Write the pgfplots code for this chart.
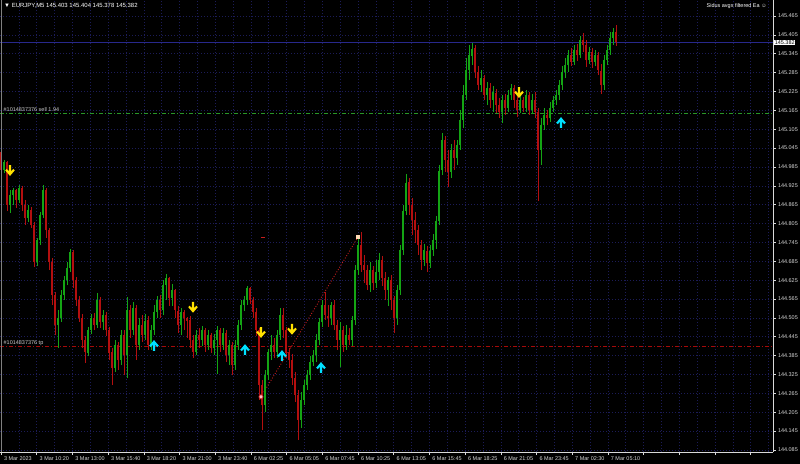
\documentclass[border=0pt]{standalone}
\usepackage{fontspec}
\setmainfont{Liberation Sans}
\usepackage{pgfplots}
\usepackage{pgfplotstable}
\pgfplotsset{compat=1.18}

\definecolor{bull}{RGB}{20,165,20}
\definecolor{bear}{RGB}{180,15,15}
\definecolor{gridblue}{RGB}{28,28,88}
\definecolor{bidline}{RGB}{40,40,140}
\definecolor{selllvl}{RGB}{40,150,40}
\definecolor{tplvl}{RGB}{165,10,10}
\definecolor{tradeln}{RGB}{200,30,30}
\definecolor{arrup}{RGB}{0,225,255}
\definecolor{arrdn}{RGB}{255,225,0}

\pgfdeclareplotmark{dnarr}{%
  \pgfsetlinewidth{2.1bp}%
  \pgfpathmoveto{\pgfpoint{0bp}{5bp}}\pgfpathlineto{\pgfpoint{0bp}{-4bp}}%
  \pgfpathmoveto{\pgfpoint{-4bp}{0.5bp}}\pgfpathlineto{\pgfpoint{0bp}{-4.2bp}}\pgfpathlineto{\pgfpoint{4bp}{0.5bp}}%
  \pgfusepathqstroke}
\pgfdeclareplotmark{uparr}{%
  \pgfsetlinewidth{2.1bp}%
  \pgfpathmoveto{\pgfpoint{0bp}{-5bp}}\pgfpathlineto{\pgfpoint{0bp}{4bp}}%
  \pgfpathmoveto{\pgfpoint{-4bp}{-0.5bp}}\pgfpathlineto{\pgfpoint{0bp}{4.2bp}}\pgfpathlineto{\pgfpoint{4bp}{-0.5bp}}%
  \pgfusepathqstroke}

% EURJPY M5 bars: x (screen slot), open, high, low, close
\pgfplotstableread{
x o h l c
1 145.033 145.039 144.969 144.975
4 144.975 145.007 144.966 145.001
7 145.001 145.007 144.848 144.864
10 144.864 144.912 144.839 144.896
13 144.896 144.921 144.864 144.912
16 144.912 144.918 144.855 144.880
19 144.880 144.928 144.871 144.918
22 144.918 144.925 144.848 144.864
25 144.864 144.880 144.801 144.823
28 144.823 144.864 144.810 144.848
31 144.848 144.858 144.791 144.801
34 144.801 144.810 144.667 144.683
37 144.683 144.759 144.670 144.753
40 144.753 144.842 144.737 144.832
43 144.832 144.928 144.823 144.912
46 144.912 144.918 144.759 144.785
49 144.785 144.791 144.657 144.683
52 144.683 144.696 144.546 144.578
55 144.578 144.587 144.451 144.483
58 144.483 144.530 144.409 144.505
61 144.505 144.594 144.492 144.578
64 144.578 144.638 144.562 144.626
67 144.626 144.683 144.610 144.664
70 144.664 144.724 144.651 144.715
73 144.715 144.721 144.600 144.626
76 144.626 144.638 144.543 144.562
79 144.562 144.575 144.492 144.505
82 144.505 144.518 144.409 144.435
85 144.435 144.448 144.362 144.397
88 144.397 144.479 144.384 144.467
91 144.467 144.518 144.454 144.505
94 144.505 144.521 144.467 144.483
97 144.483 144.584 144.473 144.562
100 144.562 144.572 144.473 144.492
103 144.492 144.530 144.467 144.514
106 144.514 144.524 144.448 144.467
109 144.467 144.476 144.371 144.397
112 144.397 144.409 144.292 144.346
115 144.346 144.435 144.333 144.419
118 144.419 144.428 144.339 144.371
121 144.371 144.467 144.355 144.451
124 144.451 144.467 144.324 144.387
127 144.387 144.572 144.314 144.530
130 144.530 144.546 144.441 144.467
133 144.467 144.556 144.451 144.537
136 144.537 144.546 144.371 144.419
139 144.419 144.505 144.403 144.483
142 144.483 144.514 144.428 144.451
145 144.451 144.518 144.435 144.498
148 144.498 144.511 144.403 144.419
151 144.419 144.483 144.403 144.467
154 144.467 144.546 144.451 144.524
157 144.524 144.575 144.505 144.562
160 144.562 144.578 144.505 144.530
163 144.530 144.626 144.514 144.610
166 144.610 144.645 144.562 144.632
169 144.632 144.638 144.546 144.568
172 144.568 144.613 144.543 144.594
175 144.594 144.600 144.505 144.530
178 144.530 144.543 144.460 144.483
181 144.483 144.537 144.451 144.524
184 144.524 144.530 144.467 144.505
187 144.505 144.511 144.444 144.498
190 144.498 144.511 144.409 144.435
193 144.435 144.451 144.378 144.397
196 144.397 144.467 144.387 144.451
199 144.451 144.473 144.409 144.435
202 144.435 144.479 144.416 144.467
205 144.467 144.476 144.397 144.419
208 144.419 144.467 144.403 144.451
211 144.451 144.457 144.394 144.409
214 144.409 144.454 144.387 144.435
217 144.435 144.479 144.327 144.467
220 144.467 144.473 144.397 144.419
223 144.419 144.473 144.403 144.457
226 144.457 144.467 144.365 144.387
229 144.387 144.435 144.355 144.419
232 144.419 144.428 144.324 144.355
235 144.355 144.435 144.339 144.419
238 144.419 144.498 144.403 144.483
241 144.483 144.562 144.467 144.546
244 144.546 144.575 144.530 144.562
247 144.562 144.607 144.546 144.600
250 144.600 144.603 144.549 144.562
253 144.562 144.572 144.505 144.524
256 144.524 144.537 144.448 144.467
259 144.467 144.473 144.244 144.292
262 144.292 144.308 144.149 144.228
265 144.228 144.339 144.206 144.324
268 144.324 144.409 144.308 144.397
271 144.397 144.451 144.371 144.419
274 144.419 144.441 144.378 144.397
277 144.397 144.467 144.378 144.451
280 144.451 144.537 144.435 144.514
283 144.514 144.537 144.441 144.467
286 144.467 144.479 144.378 144.397
289 144.397 144.409 144.346 144.371
292 144.371 144.390 144.292 144.314
295 144.314 144.333 144.238 144.260
298 144.260 144.276 144.117 144.180
301 144.180 144.269 144.155 144.244
304 144.244 144.308 144.228 144.292
307 144.292 144.339 144.276 144.324
310 144.324 144.384 144.308 144.365
313 144.365 144.403 144.352 144.387
316 144.387 144.454 144.365 144.435
319 144.435 144.505 144.419 144.492
322 144.492 144.562 144.476 144.546
325 144.546 144.587 144.498 144.514
328 144.514 144.546 144.479 144.505
331 144.505 144.556 144.483 144.546
334 144.546 144.562 144.467 144.483
337 144.483 144.498 144.403 144.435
340 144.435 144.492 144.349 144.467
343 144.467 144.479 144.397 144.419
346 144.419 144.483 144.403 144.451
349 144.451 144.473 144.419 144.435
352 144.435 144.511 144.416 144.498
355 144.498 144.673 144.483 144.657
358 144.657 144.766 144.642 144.737
361 144.737 144.778 144.651 144.673
364 144.673 144.705 144.616 144.657
367 144.657 144.673 144.594 144.610
370 144.610 144.683 144.587 144.657
373 144.657 144.670 144.594 144.616
376 144.616 144.689 144.600 144.651
379 144.651 144.712 144.626 144.689
382 144.689 144.702 144.607 144.632
385 144.632 144.651 144.562 144.594
388 144.594 144.638 144.546 144.626
391 144.626 144.642 144.530 144.562
394 144.562 144.575 144.457 144.505
397 144.505 144.610 144.483 144.594
400 144.594 144.737 144.578 144.721
403 144.721 144.864 144.705 144.848
406 144.848 144.963 144.832 144.937
409 144.937 144.950 144.832 144.864
412 144.864 144.886 144.769 144.816
415 144.816 144.842 144.743 144.785
418 144.785 144.801 144.705 144.737
421 144.737 144.753 144.657 144.689
424 144.689 144.740 144.673 144.721
427 144.721 144.734 144.651 144.683
430 144.683 144.737 144.664 144.721
433 144.721 144.772 144.702 144.753
436 144.753 144.832 144.727 144.816
439 144.816 144.991 144.801 144.975
442 144.975 145.093 144.960 145.071
445 145.071 145.084 144.969 145.007
448 145.007 145.039 144.921 144.969
451 144.969 145.061 144.950 145.039
454 145.039 145.071 144.975 145.014
457 145.014 145.071 144.991 145.055
460 145.055 145.166 145.039 145.134
463 145.134 145.246 145.109 145.214
466 145.214 145.332 145.198 145.293
469 145.293 145.373 145.262 145.341
472 145.341 145.379 145.309 145.363
475 145.363 145.373 145.268 145.287
478 145.287 145.309 145.230 145.246
481 145.246 145.293 145.223 145.268
484 145.268 145.278 145.198 145.214
487 145.214 145.255 145.182 145.236
490 145.236 145.252 145.173 145.198
493 145.198 145.243 145.160 145.223
496 145.223 145.236 145.157 145.182
499 145.182 145.204 145.141 145.160
502 145.160 145.214 145.125 145.198
505 145.198 145.217 145.150 145.173
508 145.173 145.230 145.160 145.214
511 145.214 145.249 145.198 145.236
514 145.236 145.246 145.173 145.198
517 145.198 145.214 145.144 145.166
520 145.166 145.214 145.157 145.198
523 145.198 145.208 145.160 145.173
526 145.173 145.230 145.160 145.214
529 145.214 145.223 145.150 145.166
532 145.166 145.217 145.154 145.198
535 145.198 145.223 145.141 145.160
538 145.160 145.173 144.877 145.039
541 145.039 145.141 144.991 145.119
544 145.119 145.173 145.103 145.150
547 145.150 145.166 145.119 145.141
550 145.141 145.192 145.128 145.173
553 145.173 145.211 145.160 145.198
556 145.198 145.230 145.182 145.214
559 145.214 145.262 145.198 145.246
562 145.246 145.306 145.230 145.287
565 145.287 145.332 145.268 145.309
568 145.309 145.357 145.287 145.341
571 145.341 145.363 145.306 145.319
574 145.319 145.373 145.309 145.357
577 145.357 145.376 145.325 145.341
580 145.341 145.402 145.332 145.389
583 145.389 145.411 145.351 145.373
586 145.373 145.389 145.306 145.325
589 145.325 145.367 145.313 145.351
592 145.351 145.363 145.300 145.319
595 145.319 145.357 145.306 145.341
598 145.341 145.351 145.278 145.293
601 145.293 145.313 145.220 145.246
604 145.246 145.341 145.230 145.325
607 145.325 145.373 145.309 145.357
610 145.357 145.414 145.341 145.395
613 145.395 145.427 145.373 145.414
616 145.414 145.437 145.370 145.382
}\candles

\begin{document}
\begin{tikzpicture}
\useasboundingbox[fill=black] (0,-12bp) rectangle (800bp,452bp);
\begin{axis}[
    at={(0,0)}, anchor=south west,
    scale only axis,
    width=773bp, height=452bp,
    xmin=0, xmax=773,
    ymin=144.0786, ymax=145.516,
    axis line style={draw=none},
    font=\fontsize{5.5}{6.5}\selectfont,
    ticklabel style={text=white!85!black},
    tick style={white!85!black, line width=0.6bp},
    tick align=outside,
    major tick length=2.5bp,
    minor tick length=0pt,
    xtick pos=left, ytick pos=right,
    yticklabel pos=right,
    xtick={1,36.7,72.4,108.1,143.8,179.5,215.2,250.9,286.6,322.3,358,393.7,429.4,465.1,500.8,536.5,572.2,607.9,643.6,679.3,715,750.7},
    xticklabels={3 Mar 2023,3 Mar 10:20,3 Mar 13:00,3 Mar 15:40,3 Mar 18:20,3 Mar 21:00,3 Mar 23:40,6 Mar 02:25,6 Mar 05:05,6 Mar 07:45,6 Mar 10:25,6 Mar 13:05,6 Mar 15:45,6 Mar 18:25,6 Mar 21:05,6 Mar 23:45,7 Mar 02:30,7 Mar 05:10,,,,},
    minor xtick={18.85,54.55,90.25,125.95,161.65,197.35,233.05,268.75,304.45,340.15,375.85,411.55,447.25,482.95,518.65,554.35,590.05,625.75,661.45,697.15,732.85,768.55},
    xticklabel style={anchor=north west, xshift=-0.5bp, yshift=1bp},
    ytick={144.085,144.145,144.205,144.265,144.325,144.385,144.445,144.505,144.565,144.625,144.685,144.745,144.805,144.865,144.925,144.985,145.045,145.105,145.165,145.225,145.285,145.345,145.405,145.465},
    yticklabels={144.085,144.145,144.205,144.265,144.325,144.385,144.445,144.505,144.565,144.625,144.685,144.745,144.805,144.865,144.925,144.985,145.045,145.105,145.165,145.225,145.285,145.345,145.405,145.465},
    yticklabel style={anchor=west, xshift=-1bp},
    grid=both,
    major grid style={draw=gridblue, line width=0.6bp, dash pattern=on 1bp off 2bp},
    minor grid style={draw=gridblue, line width=0.6bp, dash pattern=on 1bp off 2bp},
    clip=true,
]
% order levels
\addplot[bidline, line width=0.6bp, forget plot] coordinates {(0,145.381) (773,145.381)};
\addplot[selllvl, line width=0.6bp, dash pattern=on 4bp off 2bp on 1bp off 2bp, forget plot] coordinates {(0,145.157) (773,145.157)};
\addplot[tplvl, line width=0.7bp, dash pattern=on 4bp off 2bp on 1bp off 2bp, forget plot] coordinates {(0,144.413) (773,144.413)};
\addplot[tradeln, line width=0.9bp, dash pattern=on 0.9bp off 1.8bp, forget plot] coordinates {(261,144.254) (358,144.762)};

% wicks
\addplot[draw=none, mark=none, forget plot,
    restrict expr to domain={\thisrow{c}-\thisrow{o}}{0:1},
    error bars/.cd, y dir=both, y explicit, error mark=none,
    error bar style={draw=bull, line width=0.8bp}]
  table[x=x, y expr={(\thisrow{h}+\thisrow{l})/2}, y error expr={(\thisrow{h}-\thisrow{l})/2}] {\candles};
\addplot[draw=none, mark=none, forget plot,
    restrict expr to domain={\thisrow{o}-\thisrow{c}}{0.0001:1},
    error bars/.cd, y dir=both, y explicit, error mark=none,
    error bar style={draw=bear, line width=0.8bp}]
  table[x=x, y expr={(\thisrow{h}+\thisrow{l})/2}, y error expr={(\thisrow{h}-\thisrow{l})/2}] {\candles};
% bodies
\addplot[draw=none, mark=none, forget plot,
    restrict expr to domain={\thisrow{c}-\thisrow{o}}{0:1},
    error bars/.cd, y dir=both, y explicit, error mark=none,
    error bar style={draw=bull, line width=2bp}]
  table[x=x, y expr={(\thisrow{o}+\thisrow{c})/2}, y error expr={abs(\thisrow{c}-\thisrow{o})/2}] {\candles};
\addplot[draw=none, mark=none, forget plot,
    restrict expr to domain={\thisrow{o}-\thisrow{c}}{0.0001:1},
    error bars/.cd, y dir=both, y explicit, error mark=none,
    error bar style={draw=bear, line width=2bp}]
  table[x=x, y expr={(\thisrow{o}+\thisrow{c})/2}, y error expr={abs(\thisrow{c}-\thisrow{o})/2}] {\candles};

% trade markers
\addplot[only marks, mark=*, mark size=2.1bp, mark options={draw=tradeln, fill=white!75!red, line width=0.7bp}, forget plot] coordinates {(261,144.254)};
\addplot[only marks, mark=square*, mark size=1.6bp, mark options={draw=white!70!orange, fill=white!70!orange}, forget plot] coordinates {(358,144.762)};
\addplot[only marks, mark=-, mark size=2bp, mark options={draw=tradeln, line width=0.8bp}, forget plot] coordinates {(263,144.762)};

% signal arrows
\addplot[only marks, mark=dnarr, mark options={draw=arrdn}, forget plot] coordinates {(10,144.975) (193,144.540) (261,144.460) (292,144.470) (519,145.223)};
\addplot[only marks, mark=uparr, mark options={draw=arrup}, forget plot] coordinates {(154,144.416) (245,144.403) (282,144.384) (321,144.346) (561,145.125)};

% text
\node[anchor=south west, text=white!80!black, inner sep=0.5bp] at (axis cs:3,145.159) {\#1014837376 sell 1.94};
\node[anchor=south west, text=white!80!black, inner sep=0.5bp] at (axis cs:3,144.416) {\#1014837376 tp};
\node[anchor=north west, text=white, inner sep=0pt, font=\fontsize{6}{7}\selectfont] at (rel axis cs:0,1) [xshift=4bp, yshift=-3bp] {▼ EURJPY,M5  145.403 145.404 145.378 145.382};
\node[anchor=north east, text=white, inner sep=0pt] at (rel axis cs:1,1) [xshift=-6bp, yshift=-3bp] {Sidus avgs filtered Ea ☺};
\end{axis}
\draw[white!85!black, line width=0.8bp] (773bp,0) -- (773bp,452bp);
\draw[white!85!black, line width=0.8bp] (0,0) -- (773bp,0);
\draw[gray, line width=0.8bp] (1bp,0) -- (1bp,452bp);
\node[anchor=west, fill=white, text=black, inner sep=0.6bp, font=\fontsize{5.5}{6.5}\selectfont] at (774bp,{(145.381-144.0786)/(145.516-144.0786)*452bp}) {145.382};
\end{tikzpicture}
\end{document}
